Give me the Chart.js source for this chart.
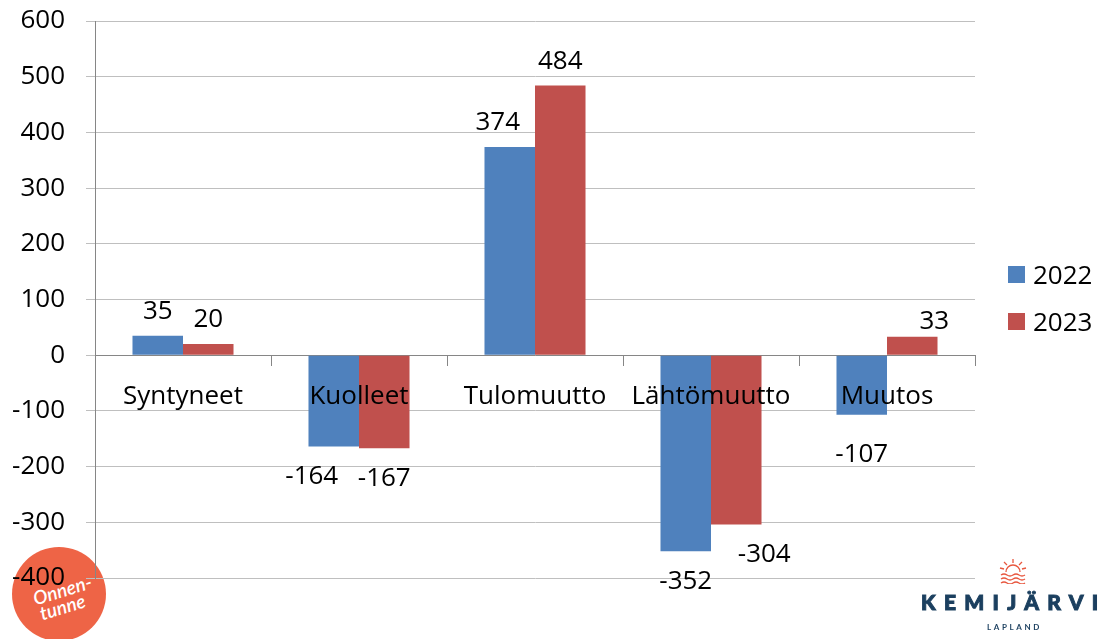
<!DOCTYPE html>
<html>
<head>
<meta charset="utf-8">
<script src="https://cdn.jsdelivr.net/npm/chart.js@4/dist/chart.umd.min.js"></script>
<style>
  html, body { margin: 0; padding: 0; background: #fff; }
  #wrap { position: relative; width: 1099px; height: 639px; overflow: hidden; font-family: "Open Sans", sans-serif; }
  #c { position: absolute; left: 0; top: 0; z-index: 2; }
  .badge { position: absolute; left: 12px; top: 547px; width: 94px; height: 94px; border-radius: 50%; background: #ee6446; z-index: 1; }
  .badge span { position: absolute; color: #fff; font-family: Lato, sans-serif; font-style: italic; font-weight: 600; font-size: 19px; line-height: 23px; transform: rotate(-17deg); }
  .legend { position: absolute; left: 1008px; z-index: 3; font-size: 26px; color: #000; display: flex; align-items: center; }
  .legend i { display: inline-block; width: 17px; height: 17px; margin-right: 8px; }
  .logo { position: absolute; z-index: 3; color: #1b3f5f; font-family: Lato, sans-serif; }
</style>
</head>
<body>
<div id="wrap">
  <div class="badge"><span style="left:20px;top:31px">Onnen-</span><span style="left:27px;top:48px">tunne</span></div>
  <canvas id="c" width="1099" height="639"></canvas>
  <div id="legend"></div>
  <svg class="logo" style="left:998px;top:558px" width="30" height="26" viewBox="0 0 30 26">
    <g stroke="#e8573f" stroke-width="1.3" fill="none">
      <path d="M8 14 A7 7 0 0 1 22 14"/>
      <line x1="15" y1="1" x2="15" y2="5"/><line x1="6" y1="4" x2="9" y2="7"/><line x1="24" y1="4" x2="21" y2="7"/>
      <line x1="2" y1="10" x2="6" y2="11"/><line x1="28" y1="10" x2="24" y2="11"/>
      <path d="M3 17 q3 -2 6 0 t6 0 t6 0 t6 0"/>
      <path d="M3 21 q3 -2 6 0 t6 0 t6 0 t6 0"/>
      <path d="M3 25 q3 -2 6 0 t6 0 t6 0 t6 0"/>
    </g>
  </svg>
  <div class="logo" style="left:921px;top:589px;font-size:21px;font-weight:900;letter-spacing:8.3px;-webkit-text-stroke:1px #1b3f5f;">KEMIJÄRVI</div>
  <div class="logo" style="left:987px;top:622px;font-size:8px;font-weight:700;letter-spacing:2.6px;">LAPLAND</div>
</div>
<script>
const categories = ['Syntyneet', 'Kuolleet', 'Tulomuutto', 'Lähtömuutto', 'Muutos'];
const series = ['2022', '2023'];
const values2022 = [35, -164, 374, -352, -107];
const values2023 = [20, -167, 484, -304, 33];
const yTicks = [-400, -300, -200, -100, 0, 100, 200, 300, 400, 500, 600];
const colors = ['#4f81bd', '#c0504d'];

// label nudges [dx, dy] in px, where Excel moved labels apart
const labelNudge = [
  [[0, 0], [-22, 0], [-12, 0], [0, 0], [0, 10]],
  [[0, 0], [0, 0], [0, 0], [28, 0], [22, 9]]
];

const FONT = '"Open Sans", sans-serif';

const valueLabels = {
  id: 'valueLabels',
  afterDatasetsDraw(chart) {
    const ctx = chart.ctx;
    ctx.save();
    ctx.font = '26px ' + FONT;
    ctx.fillStyle = '#000';
    ctx.textAlign = 'center';
    ctx.textBaseline = 'middle';
    chart.data.datasets.forEach((ds, di) => {
      chart.getDatasetMeta(di).data.forEach((bar, i) => {
        const v = ds.data[i];
        const [dx, dy] = labelNudge[di][i];
        ctx.fillText(String(v), bar.x + dx, bar.y + (v >= 0 ? -24 : 30) + dy);
      });
    });
    ctx.restore();
  }
};

const leg = document.getElementById('legend');
series.forEach((s, i) => {
  const d = document.createElement('div');
  d.className = 'legend';
  d.style.top = (256 + i * 47) + 'px';
  d.innerHTML = '<i style="background:' + colors[i] + '"></i>' + s;
  leg.appendChild(d);
});

const noPad = s => { s.paddingTop = 0; s.paddingBottom = 0; };

new Chart(document.getElementById('c'), {
  type: 'bar',
  data: {
    labels: categories,
    datasets: [
      { label: series[0], data: values2022, backgroundColor: colors[0] },
      { label: series[1], data: values2023, backgroundColor: colors[1] }
    ]
  },
  options: {
    responsive: false,
    animation: false,
    layout: { padding: { left: 0, right: 124, top: 21, bottom: 61 } },
    categoryPercentage: 0.574,
    barPercentage: 1,
    plugins: { legend: { display: false }, tooltip: { enabled: false } },
    scales: {
      x: {
        position: { y: 0 },
        afterFit: noPad,
        grid: { offset: true, drawOnChartArea: false, drawTicks: true, tickLength: 10, color: '#868686' },
        border: { color: '#868686' },
        ticks: { z: 1, color: '#000', font: { family: FONT, size: 26 }, padding: 16, maxRotation: 0 }
      },
      y: {
        min: -400, max: 600,
        afterFit: s => { s.width = 95; noPad(s); },
        afterBuildTicks: s => { s.ticks = yTicks.map(v => ({ value: v })); },
        grid: { color: '#bfbfbf', tickLength: 9 },
        border: { color: '#868686' },
        ticks: { color: '#000', font: { family: FONT, size: 26 }, padding: 21 }
      }
    }
  },
  plugins: [valueLabels]
});
</script>
</body>
</html>
